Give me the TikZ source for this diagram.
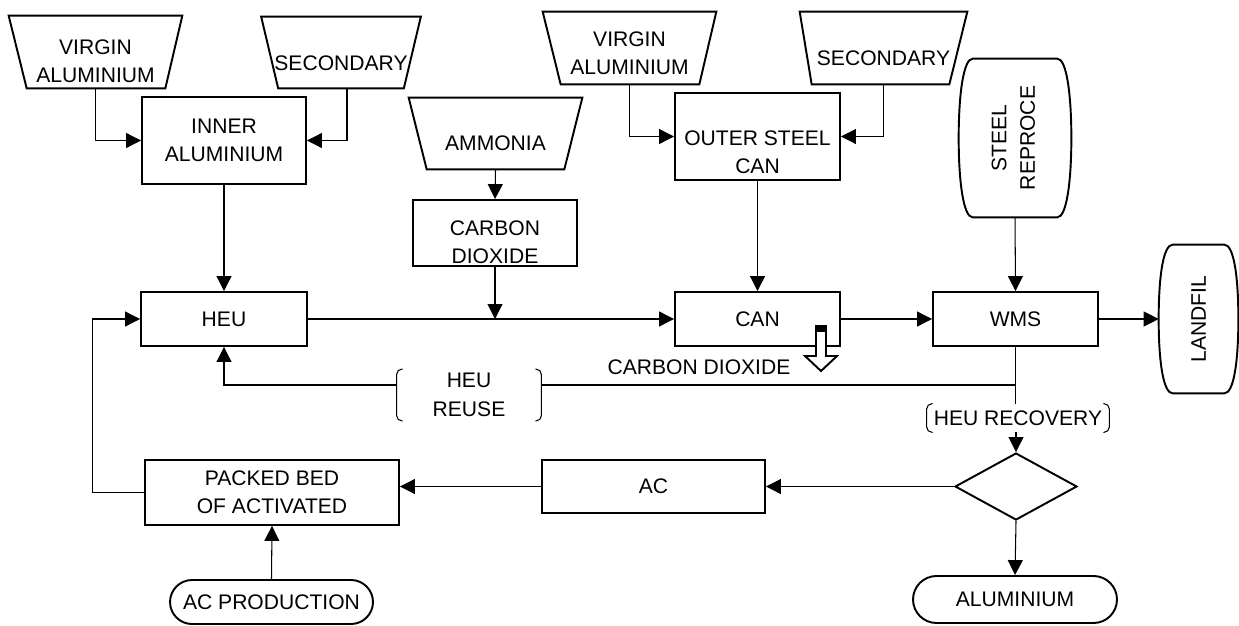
\documentclass[tikz,border=0pt]{standalone}
\usepackage{fontspec}
\setmainfont{Liberation Sans}
\usepackage{tikz,graphicx}
\usetikzlibrary{shapes.geometric, shapes.misc, arrows.meta}

\tikzset{
every node/.style={font=\fontsize{12}{16.2}\selectfont}, % Arial-like text everywhere
box/.style={draw, line width=1.1pt, rectangle, align=center, inner sep=0pt},
feed/.style={rectangle, inner sep=0pt}, % raw material inputs, outline drawn with \feedshape
ends/.style={draw, line width=1.1pt, rounded rectangle, inner sep=0pt},
decide/.style={draw, line width=1.1pt, diamond, inner sep=0pt},
drum/.style={inner sep=0pt}, % outline drawn with \drum
tag/.style={inner xsep=0pt, align=center}, % bracketed stream labels
lbl/.style={align=center},
flow/.style={line width=0.6pt},
arr/.style={flow, -{Triangle[length=8.5pt,width=8.5pt]}},
bracket/.style={line width=0.6pt, rounded corners=3pt},
}

% trapezium, wide side up: node, left inset, right inset
\newcommand\feedshape[3]{%
  \draw[line width=1.1pt] (#1.north west) -- (#1.north east) -- ([shift={(-#3,0)}]#1.south east)
    -- ([shift={(#2,0)}]#1.south west) -- cycle;}

% barrel outline round a node
\newcommand\drum[1]{%
  \draw[line width=1.1pt] ([shift={(14,0)}]#1.north west) -- ([shift={(-14,0)}]#1.north east)
    .. controls +(9,0) and +(0,-45) .. (#1.east)
    .. controls +(0,45) and +(9,0) .. ([shift={(-14,0)}]#1.south east)
    -- ([shift={(14,0)}]#1.south west)
    .. controls +(-9,0) and +(0,45) .. (#1.west)
    .. controls +(0,-45) and +(-9,0) .. ([shift={(14,0)}]#1.north west) -- cycle;}

% open brackets left and right of a node
\newcommand\bracketpair[1]{%
  \draw[bracket] ([shift={(6,0)}]#1.north west) -- (#1.north west) -- (#1.south west) -- ([shift={(6,0)}]#1.south west);
  \draw[bracket] ([shift={(-6,0)}]#1.north east) -- (#1.north east) -- (#1.south east) -- ([shift={(-6,0)}]#1.south east);}

\begin{document}
\begin{tikzpicture}[x=0.02cm, y=-0.02cm]
\useasboundingbox (0,0) rectangle (1239,625);

% inputs and first stages
\node[feed, minimum width=3.46cm, minimum height=1.44cm, label={[lbl,yshift=-0.18cm]center:VIRGIN\\ALUMINIUM}] (va1) at (95.5,52) {};
\node[feed, minimum width=3.18cm, minimum height=1.42cm, label={[lbl,yshift=-0.21cm]center:SECONDARY}] (sec1) at (341,52.5) {};
\node[box, minimum width=3.28cm, minimum height=1.74cm] (inner) at (224,140.5) {INNER\\ALUMINIUM};
\node[feed, minimum width=3.46cm, minimum height=1.42cm, label={[lbl,yshift=-0.19cm]center:AMMONIA}] (amm) at (495.5,133.5) {};
\node[box, minimum width=3.28cm, minimum height=1.32cm, label={[lbl,yshift=-0.19cm]center:CARBON\\DIOXIDE}] (cdbox) at (495,233) {};
\node[feed, minimum width=3.46cm, minimum height=1.44cm, label={[lbl,yshift=-0.1cm]center:VIRGIN\\ALUMINIUM}] (va2) at (629.5,48) {};
\node[feed, minimum width=3.34cm, minimum height=1.44cm, label={[lbl,yshift=-0.2cm]center:SECONDARY}] (sec2) at (883.5,48) {};
\node[box, minimum width=3.3cm, minimum height=1.74cm, label={[lbl,yshift=-0.31cm]center:OUTER STEEL\\CAN}] (outer) at (757.5,136.5) {};
\node[drum, minimum width=2.24cm, minimum height=3.16cm] (steel) at (1015,138)
  {\rotatebox{90}{\begin{tabular}{@{}c@{}}STEEL\\REPROCE\end{tabular}}};

% main line
\node[box, minimum width=3.32cm, minimum height=1.08cm] (heu) at (224,319) {HEU};
\node[box, minimum width=3.3cm, minimum height=1.08cm] (can) at (757.5,319) {CAN};
\node[box, minimum width=3.3cm, minimum height=1.08cm] (wms) at (1015.5,319) {WMS};
\node[drum, minimum width=1.58cm, minimum height=2.96cm] (landfil) at (1198.5,319) {\rotatebox{90}{LANDFIL}};
\node (co2) at (699,367) {CARBON DIOXIDE};
\node[tag, minimum width=2.88cm, inner ysep=0.08cm] (reuse) at (469,395) {HEU\\REUSE};
\node[tag, minimum width=3.64cm, inner ysep=0.13cm] (recov) at (1018,418) {HEU RECOVERY};

% recovery loop
\node[decide, minimum width=2.44cm, minimum height=1.34cm] (dia) at (1016,486.5) {};
\node[box, minimum width=4.46cm, minimum height=1.06cm] (ac) at (653.5,486.5) {AC};
\node[box, minimum width=5.08cm, minimum height=1.3cm] (packed) at (272,492.5) {PACKED BED\\OF ACTIVATED};
\node[ends, minimum width=4.06cm, minimum height=0.88cm] (acprod) at (271.5,602) {AC PRODUCTION};
\node[ends, minimum width=4.08cm, minimum height=0.94cm] (alum) at (1015,599.5) {ALUMINIUM};

\feedshape{va1}{18}{17}
\feedshape{sec1}{17}{17}
\feedshape{amm}{18}{18}
\feedshape{va2}{18}{17}
\feedshape{sec2}{12}{18}
\drum{steel}
\drum{landfil}
\bracketpair{reuse}
\bracketpair{recov}

\draw[arr] (va1.south) |- (inner.west);
\draw[arr] ([xshift=0.12cm]sec1.south) |- (inner.east);
\draw[arr] (inner.south) -- (heu.north);
\draw[arr] (amm.south) -- (cdbox.north);
\draw[arr] (cdbox.south) -- (cdbox.south |- heu.east);
\draw[arr] (va2.south) |- (outer.west);
\draw[arr] (sec2.south) |- (outer.east);
\draw[arr] (outer.south) -- (can.north);
\draw[arr] (heu.east) -- (can.west);
\draw[arr] (can.east) -- (wms.west);
\draw[arr] (steel.south) -- (wms.north);
\draw[arr] (wms.east) -- (landfil.west);

\draw[flow] (wms.south) -- (wms.south |- recov.north);
\coordinate (split) at (1015.5,385);
\draw[flow] (split) -- (split -| reuse.east);
\draw[arr] (split -| reuse.west) -| (heu.south);
\draw[arr] (dia.north |- recov.south) -- (dia.north);
\draw[arr] (dia.west) -- (ac.east);
\draw[arr] (ac.west) -- (ac.west -| packed.east);
\draw[arr] (packed.west) -- ++(-52,0) |- (heu.west);
\draw[arr] (acprod.north) -- (packed.south);
\draw[arr] (dia.south) -- (alum.north);

% carbon dioxide vent
\fill (815,325) rectangle (827,331);
\draw[line width=1.1pt, fill=white] (816,331) -- (826,331) -- (826,356) -- (837,356) -- (821,371)
  -- (805,356) -- (816,356) -- cycle;
\end{tikzpicture}
\end{document}
